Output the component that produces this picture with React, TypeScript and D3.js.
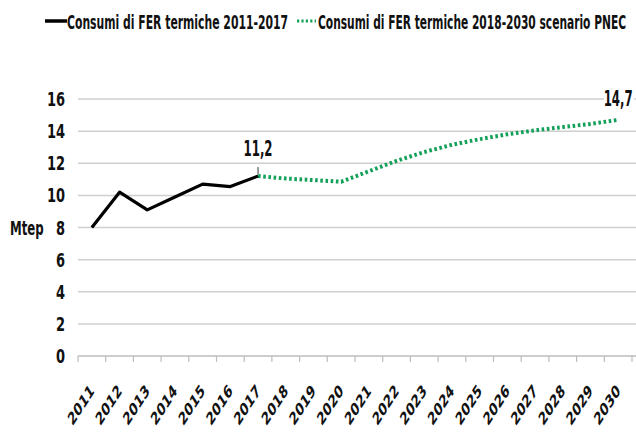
import * as d3 from "d3";

const years = d3.range(2011, 2031).map(String);
const historicYears = ["2011", "2012", "2013", "2014", "2015", "2016", "2017"];
const historicValues = [8.0, 10.2, 9.1, 9.9, 10.7, 10.55, 11.2];
const scenarioYears = ["2017", "2018", "2019", "2020", "2021", "2022", "2023", "2024", "2025", "2026", "2027", "2028", "2029", "2030"];
const scenarioValues = [11.2, 11.05, 10.95, 10.85, 11.5, 12.15, 12.7, 13.15, 13.5, 13.8, 14.05, 14.25, 14.45, 14.7];
const yTicks = [0, 2, 4, 6, 8, 10, 12, 14, 16];
const legendLabels = ["Consumi di FER termiche 2011-2017", "Consumi di FER termiche 2018-2030 scenario PNEC"];

const font = "'DejaVu Sans', sans-serif";
const green = "#13a058";
const squeeze = 0.65; // the source picture is squashed horizontally

// bold text squeezed horizontally (rotation applied before the squeeze, like the source)
function NText({ x, y, size, sx = squeeze, anchor = "start", rotate = 0, children }: any) {
  return (
    <g transform={`translate(${x}, ${y}) scale(${sx}, 1) rotate(${rotate})`}>
      <text textAnchor={anchor} fontFamily={font} fontWeight="bold" fontSize={size} fill="#111">
        {children}
      </text>
    </g>
  );
}

export default function App() {
  const width = 636;
  const height = 435;
  const margin = { top: 99, right: 4, bottom: 79, left: 78 };
  const x = d3.scaleBand().domain(years).range([margin.left, width - margin.right]);
  const y = d3.scaleLinear().domain([0, 16]).range([height - margin.bottom, margin.top]);
  const cx = (year: string) => (x(year) ?? 0) + x.bandwidth() / 2;

  const line = d3
    .line<[string, number]>()
    .x((d) => cx(d[0]))
    .y((d) => y(d[1]));

  const historic = historicYears.map((yr, i) => [yr, historicValues[i]] as [string, number]);
  const scenario = scenarioYears.map((yr, i) => [yr, scenarioValues[i]] as [string, number]);
  const lastHist = historic[historic.length - 1];
  const lastScen = scenario[scenario.length - 1];
  const fmt = (v: number) => String(v).replace(".", ",");

  return (
    <svg width={width} height={height} style={{ position: "absolute", left: 0, top: 0, background: "#fff" }}>
      {yTicks.map((tick) => (
        <g key={tick}>
          <line x1={margin.left} x2={width} y1={y(tick)} y2={y(tick)} stroke={tick === 0 ? "#bdbdbd" : "#cfcfcf"} strokeWidth={1.5} />
          <NText x={65} y={y(tick) + 7} size={20} anchor="end">
            {tick}
          </NText>
        </g>
      ))}
      {years.concat(["end"]).map((yr, i) => {
        const tx = margin.left + i * x.bandwidth();
        return <line key={yr} x1={tx} x2={tx} y1={y(0)} y2={y(0) + 6} stroke="#bdbdbd" strokeWidth={1.2} />;
      })}
      {years.map((yr) => (
        <NText key={yr} x={cx(yr) + 3} y={y(0) + 36} size={17.5} rotate={-45} anchor="end">
          {yr}
        </NText>
      ))}
      <NText x={10} y={235} size={19} sx={0.62}>
        Mtep
      </NText>
      <path d={line(scenario) ?? ""} fill="none" stroke={green} strokeWidth={4} strokeDasharray="2.6 2.6" />
      <path d={line(historic) ?? ""} fill="none" stroke="#000" strokeWidth={3.2} strokeLinejoin="round" />
      <line x1={cx(lastHist[0])} x2={cx(lastHist[0])} y1={y(lastHist[1]) - 2} y2={y(lastHist[1]) - 9} stroke="#333" strokeWidth={1} />
      <NText x={cx(lastHist[0])} y={y(lastHist[1]) - 20} size={21} sx={0.56} anchor="middle">
        {fmt(lastHist[1])}
      </NText>
      <rect x={cx(lastScen[0]) - 14} y={y(lastScen[1]) - 31} width={30} height={19} fill="#fff" />
      <NText x={cx(lastScen[0])} y={y(lastScen[1]) - 14} size={21} sx={0.56} anchor="middle">
        {fmt(lastScen[1])}
      </NText>
      <g>
        <line x1={45} x2={67} y1={21} y2={21} stroke="#000" strokeWidth={3.5} />
        <NText x={67} y={29} size={20} sx={0.542}>
          {legendLabels[0]}
        </NText>
        <line x1={297} x2={316} y1={21} y2={21} stroke={green} strokeWidth={3} strokeDasharray="2.2 2.2" />
        <NText x={318} y={29} size={20} sx={0.534}>
          {legendLabels[1]}
        </NText>
      </g>
    </svg>
  );
}
